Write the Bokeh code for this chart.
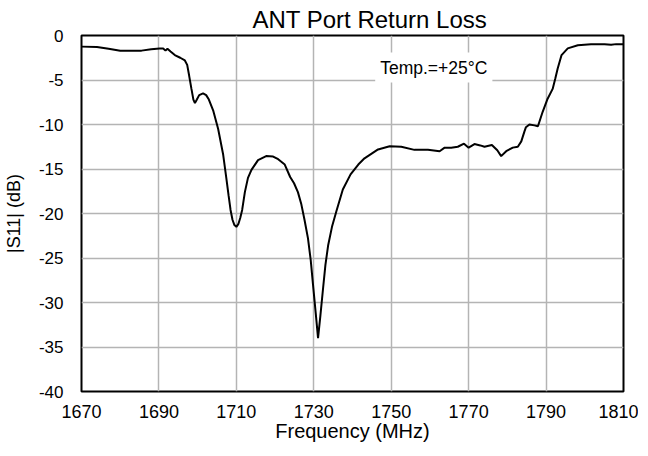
from bokeh.plotting import figure
from bokeh.models import FixedTicker, Label, Range1d
from bokeh.embed import file_html
from bokeh.resources import INLINE

freq_mhz = [1670, 1674, 1677, 1680, 1683, 1685.5, 1688, 1690.2, 1691.1, 1691.7,
            1692.2, 1693, 1694.1, 1695.5, 1696.7, 1697.3, 1697.8, 1698.4, 1698.9, 1699.3,
            1699.8, 1700.4, 1701.4, 1702.2, 1702.9, 1704.0, 1705.3, 1706.6, 1707.4, 1708.0,
            1708.5, 1709.0, 1709.5, 1710.0, 1710.5, 1711.0, 1711.5, 1712.2, 1713.0, 1713.9,
            1715.6, 1717.7, 1719.5, 1720.8, 1722.5, 1723.9, 1724.9, 1725.9, 1726.8, 1727.6,
            1728.5, 1729.2, 1729.8, 1730.5, 1731.1, 1731.7, 1732.4, 1733.0, 1733.7, 1734.7,
            1735.8, 1737.5, 1739.5, 1741.5, 1743.1, 1746.6, 1749.6, 1752.6, 1756, 1759.5,
            1762.5, 1763.8, 1765.5, 1767.2, 1768.8, 1770, 1771.5, 1773, 1774.1, 1776,
            1777.4, 1778.4, 1779.7, 1781.4, 1782.7, 1783.6, 1784.4, 1784.8, 1785.7, 1787,
            1787.9, 1789.1, 1790.4, 1791.7, 1792.4, 1793, 1794, 1795.6, 1798.2, 1801.6,
            1805.1, 1806.8, 1808.1, 1810]
s11_db = [-1.25, -1.3, -1.5, -1.72, -1.72, -1.7, -1.55, -1.45, -1.45, -1.7,
          -1.5, -1.8, -2.2, -2.5, -2.8, -3.3, -4.5, -6.0, -7.2, -7.6,
          -7.2, -6.7, -6.5, -6.7, -7.2, -8.4, -10.5, -13.4, -16.0, -18.0,
          -19.6, -20.7, -21.3, -21.5, -21.2, -20.5, -19.6, -17.6, -16.0, -15.1,
          -14.0, -13.55, -13.6, -13.9, -14.5, -15.9, -16.6, -17.6, -19.0, -20.7,
          -22.8, -25.2, -28.0, -31.2, -34.0, -31.5, -28.4, -25.8, -23.6, -21.5,
          -19.8, -17.3, -15.6, -14.5, -13.8, -12.8, -12.45, -12.5, -12.85, -12.85,
          -13.0, -12.6, -12.6, -12.5, -12.15, -12.6, -12.2, -12.35, -12.5, -12.3,
          -12.9, -13.55, -13.0, -12.6, -12.5, -11.9, -10.8, -10.3, -10.0, -10.1,
          -10.2, -8.6, -7.1, -6.0, -4.8, -3.7, -2.2, -1.45, -1.1, -0.97,
          -0.97, -1.05, -0.97, -0.97]

x_ticks = [1670, 1690, 1710, 1730, 1750, 1770, 1790, 1810]
y_ticks = [-40, -35, -30, -25, -20, -15, -10, -5, 0]
y_tick_labels = ["-40", "-35", "-30", "-25", "-20", "-15", "-10", "-5", "0"]
title_text = "ANT Port Return Loss"
x_label = "Frequency (MHz)"
y_label = "|S11| (dB)"
note_text = "Temp.=+25°C"
note_pos = (1761.0, -3.6)

FONT = "Liberation Sans"

p = figure(frame_width=542, frame_height=356, output_backend="svg", toolbar_location=None,
           x_range=Range1d(1670, 1810), y_range=Range1d(-40, 0),
           min_border_left=75, min_border_right=15, min_border_top=29, min_border_bottom=55)

p.title.text = title_text
p.title.text_font = FONT
p.title.text_font_size = "24px"
p.title.text_font_style = "normal"
p.title.text_color = "black"
p.title.align = "left"
p.title.offset = 171
p.title.standoff = 6

p.line(freq_mhz, s11_db, line_color="black", line_width=2)

p.xaxis.ticker = FixedTicker(ticks=x_ticks)
p.yaxis.ticker = FixedTicker(ticks=y_ticks)
p.yaxis.major_label_overrides = {t: s for t, s in zip(y_ticks, y_tick_labels)}
for ax in (p.xaxis, p.yaxis):
    ax.major_tick_out = 0
    ax.major_tick_in = 0
    ax.minor_tick_out = 0
    ax.minor_tick_in = 0
    ax.axis_line_color = None
    ax.major_label_text_font = FONT
    ax.major_label_text_color = "black"
    ax.axis_label_text_font = FONT
    ax.axis_label_text_font_style = "normal"
    ax.axis_label_text_color = "black"

p.xaxis.major_label_text_font_size = "18px"
p.xaxis.major_label_standoff = 13
p.xaxis.axis_label = x_label
p.xaxis.axis_label_text_font_size = "20px"
p.xaxis.axis_label_standoff = -1

p.yaxis.major_label_text_font_size = "17px"
p.yaxis.major_label_standoff = 18
p.yaxis.axis_label = y_label
p.yaxis.axis_label_text_font_size = "18px"
p.yaxis.axis_label_standoff = 12

p.grid.grid_line_color = "#b4b4b4"
p.grid.grid_line_width = 1.5
p.outline_line_color = "black"
p.outline_line_width = 2

note = Label(x=note_pos[0], y=note_pos[1], text=note_text, text_align="center",
             text_baseline="middle", text_font=FONT, text_font_size="17.5px",
             text_color="black", background_fill_color="white", padding=5)
p.add_layout(note)

open("out.html", "w").write(file_html(p, INLINE))
